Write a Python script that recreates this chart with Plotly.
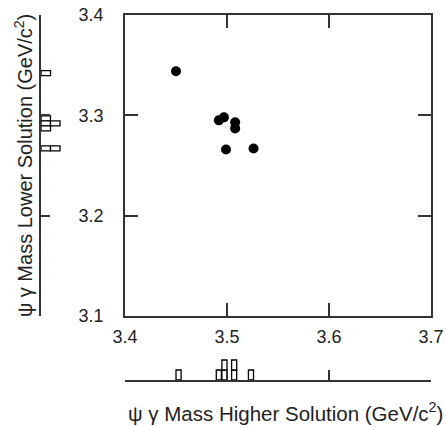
import plotly.graph_objects as go

# ---- data ----
higher_mass = [3.450, 3.492, 3.497, 3.508, 3.508, 3.499, 3.526]
lower_mass = [3.344, 3.295, 3.298, 3.293, 3.287, 3.266, 3.267]

hist_x_centers = [3.4525, 3.4920, 3.4975, 3.5070, 3.5235]
hist_x_counts = [1, 1, 2, 2, 1]
hist_y_centers = [3.342, 3.297, 3.292, 3.287, 3.267]
hist_y_counts = [1, 1, 2, 1, 2]
bin_width = 0.005

axis_ticks = [3.1, 3.2, 3.3, 3.4, 3.5, 3.6, 3.7]
x_title = "ψ γ Mass Higher Solution (GeV/c<sup>2</sup>)"
y_title = "ψ γ Mass Lower Solution (GeV/c<sup>2</sup>)"

W, H = 446, 427
FONT = "Liberation Sans"
LINE = "#333333"

def px(x):
    return x / W

def py(y):
    return 1 - y / H

fig = go.Figure()

fig.add_trace(go.Scatter(
    x=higher_mass, y=lower_mass, mode="markers",
    marker=dict(size=10, color="black"),
    xaxis="x", yaxis="y", showlegend=False, hoverinfo="skip"))

# expand histograms into stacked unit boxes
bx, bb = [], []
for c, n in zip(hist_x_centers, hist_x_counts):
    for k in range(n):
        bx.append(c); bb.append(k)
fig.add_trace(go.Bar(
    x=bx, y=[1] * len(bx), base=bb, width=bin_width,
    marker=dict(color="white", line=dict(color="black", width=1.3)),
    xaxis="x2", yaxis="y2", showlegend=False, hoverinfo="skip"))

hy, hb = [], []
for c, n in zip(hist_y_centers, hist_y_counts):
    for k in range(n):
        hy.append(c); hb.append(k)
fig.add_trace(go.Bar(
    y=hy, x=[1] * len(hy), base=hb, width=bin_width, orientation="h",
    marker=dict(color="white", line=dict(color="black", width=1.3)),
    xaxis="x3", yaxis="y3", showlegend=False, hoverinfo="skip"))

main_dom_x = [px(125), px(431)]
main_dom_y = [py(316), py(15)]

fig.update_layout(
    width=W, height=H,
    margin=dict(l=0, r=0, t=0, b=0, autoexpand=False),
    paper_bgcolor="white", plot_bgcolor="white",
    font=dict(family=FONT, size=18, color="#222222"),
    barmode="overlay",
    xaxis=dict(domain=main_dom_x, range=[3.4, 3.7], tickvals=axis_ticks,
               ticktext=[f"{v:.1f}" for v in axis_ticks],
               showline=True, linecolor=LINE, linewidth=1.5, mirror="ticks",
               ticks="inside", ticklen=13, tickwidth=1.5, tickcolor=LINE,
               showgrid=False, zeroline=False, ticklabelstandoff=4,
               ticklabeloverflow="allow",
               tickfont=dict(size=18), anchor="y", automargin=False),
    yaxis=dict(domain=main_dom_y, range=[3.1, 3.4], tickvals=axis_ticks,
               ticktext=[f"{v:.1f}" for v in axis_ticks],
               showline=True, linecolor=LINE, linewidth=1.5, mirror="ticks",
               ticks="inside", ticklen=13, tickwidth=1.5, tickcolor=LINE,
               showgrid=False, zeroline=False, ticklabelstandoff=16,
               ticklabeloverflow="allow",
               tickfont=dict(size=18), anchor="x", automargin=False),
    xaxis2=dict(domain=main_dom_x, range=[3.4, 3.7], tickvals=axis_ticks,
                showticklabels=False, showline=True, linecolor=LINE,
                linewidth=1.5, ticks="inside", ticklen=10, tickwidth=1.5,
                tickcolor=LINE, showgrid=False, zeroline=False, anchor="y2",
                automargin=False),
    yaxis2=dict(domain=[py(380), py(350)], range=[0, 3], visible=False,
                anchor="x2", automargin=False),
    xaxis3=dict(domain=[px(41), px(69.5)], range=[0, 3], visible=False,
                anchor="y3", automargin=False),
    yaxis3=dict(domain=main_dom_y, range=[3.1, 3.4], tickvals=axis_ticks,
                showticklabels=False, showline=True, linecolor=LINE,
                linewidth=1.5, ticks="inside", ticklen=9, tickwidth=1.5,
                tickcolor=LINE, showgrid=False, zeroline=False, anchor="x3",
                automargin=False),
    annotations=[
        dict(text=x_title, x=px(285), y=py(412), xref="paper", yref="paper",
             xanchor="center", yanchor="middle",
             showarrow=False, font=dict(size=20.5, family=FONT)),
        dict(text=y_title, x=px(23), y=py(166), xref="paper", yref="paper",
             xanchor="center", yanchor="middle",
             showarrow=False, textangle=-90, font=dict(size=20, family=FONT)),
    ],
)

fig.write_html(
    "out.html",
    config={"displayModeBar": False},
    post_script="document.body.style.margin='0';document.body.style.overflow='hidden';",
)
